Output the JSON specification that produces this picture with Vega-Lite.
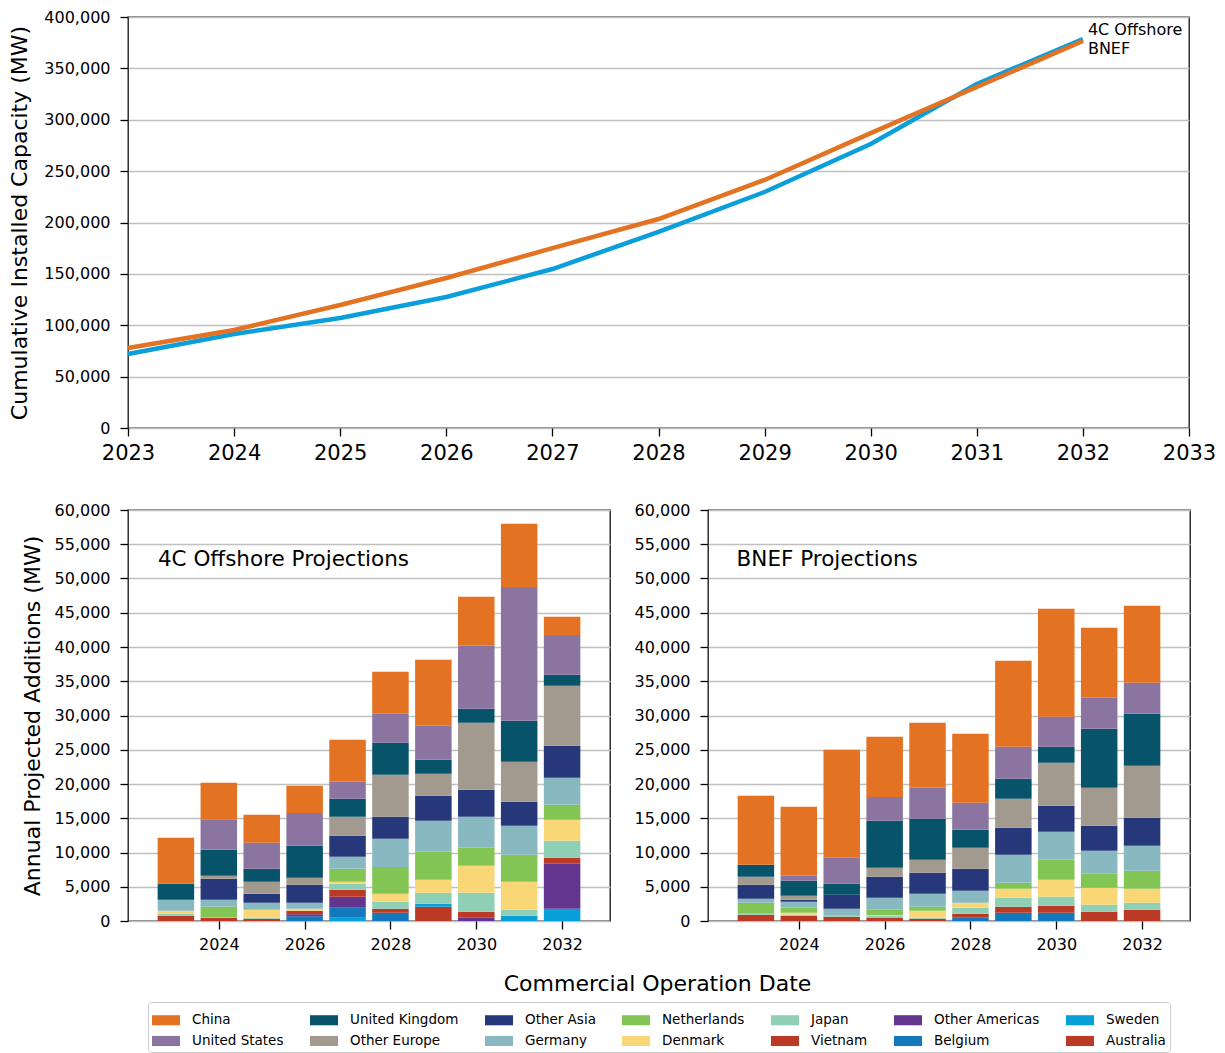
{
  "$schema": "https://vega.github.io/schema/vega-lite/v6.json",
  "background": "white",
  "padding": {"left": 8, "top": 8, "right": 5, "bottom": 0},
  "config": {
    "font": "DejaVu Sans",
    "view": {"stroke": "#111", "strokeWidth": 1.3},
    "axis": {"labelFont": "DejaVu Sans", "titleFont": "DejaVu Sans", "labelColor": "#000", "titleColor": "#000", "titleFontWeight": "normal", "labelFontSize": 16, "titleFontSize": 22, "domain": false, "tickColor": "#000", "tickSize": 8, "tickWidth": 1.3, "gridColor": "#c0c0c0", "gridWidth": 1.3, "labelOverlap": false, "labelFlush": false},
    "axisX": {"labelPadding": 7, "grid": false},
    "axisY": {"labelPadding": 10, "titlePadding": 12},
    "legend": {"labelFont": "DejaVu Sans", "labelFontSize": 13.5, "labelColor": "#000", "symbolType": "M-1,-0.36H1V0.36H-1Z", "symbolSize": 784, "symbolStrokeWidth": 0, "symbolOpacity": 1, "labelOffset": 12, "columnPadding": 26, "rowPadding": 0, "strokeColor": "#cccccc", "cornerRadius": 3, "padding": 4, "fillColor": "white"},
    "title": {"font": "DejaVu Sans", "fontWeight": "normal", "color": "#000"}
  },
  "datasets": {
    "cum": [
      {"src": "4C Offshore", "year": 2023, "mw": 72000},
      {"src": "4C Offshore", "year": 2024, "mw": 91500},
      {"src": "4C Offshore", "year": 2025, "mw": 107000},
      {"src": "4C Offshore", "year": 2026, "mw": 127500},
      {"src": "4C Offshore", "year": 2027, "mw": 154700},
      {"src": "4C Offshore", "year": 2028, "mw": 190800},
      {"src": "4C Offshore", "year": 2029, "mw": 229700},
      {"src": "4C Offshore", "year": 2030, "mw": 276400},
      {"src": "4C Offshore", "year": 2031, "mw": 334800},
      {"src": "4C Offshore", "year": 2032, "mw": 378600},
      {"src": "BNEF", "year": 2023, "mw": 77900},
      {"src": "BNEF", "year": 2024, "mw": 95400},
      {"src": "BNEF", "year": 2025, "mw": 119700},
      {"src": "BNEF", "year": 2026, "mw": 146000},
      {"src": "BNEF", "year": 2027, "mw": 175000},
      {"src": "BNEF", "year": 2028, "mw": 203400},
      {"src": "BNEF", "year": 2029, "mw": 241400},
      {"src": "BNEF", "year": 2030, "mw": 287000},
      {"src": "BNEF", "year": 2031, "mw": 331900},
      {"src": "BNEF", "year": 2032, "mw": 376600}
    ],
    "panelLabels": [
      {"src": "4C", "label": "4C Offshore Projections"},
      {"src": "BNEF", "label": "BNEF Projections"}
    ],
    "annual": [
      {"src": "4C", "year": 2023, "country": "Australia", "mw": 780},
      {"src": "4C", "year": 2023, "country": "Japan", "mw": 290},
      {"src": "4C", "year": 2023, "country": "Denmark", "mw": 440},
      {"src": "4C", "year": 2023, "country": "Germany", "mw": 1600},
      {"src": "4C", "year": 2023, "country": "United Kingdom", "mw": 2340},
      {"src": "4C", "year": 2023, "country": "China", "mw": 6720},

      {"src": "4C", "year": 2024, "country": "Australia", "mw": 490},
      {"src": "4C", "year": 2024, "country": "Japan", "mw": 90},
      {"src": "4C", "year": 2024, "country": "Netherlands", "mw": 1510},
      {"src": "4C", "year": 2024, "country": "Germany", "mw": 1020},
      {"src": "4C", "year": 2024, "country": "Other Asia", "mw": 3070},
      {"src": "4C", "year": 2024, "country": "Other Europe", "mw": 440},
      {"src": "4C", "year": 2024, "country": "United Kingdom", "mw": 3790},
      {"src": "4C", "year": 2024, "country": "United States", "mw": 4430},
      {"src": "4C", "year": 2024, "country": "China", "mw": 5350},

      {"src": "4C", "year": 2025, "country": "Australia", "mw": 340},
      {"src": "4C", "year": 2025, "country": "Japan", "mw": 150},
      {"src": "4C", "year": 2025, "country": "Denmark", "mw": 1160},
      {"src": "4C", "year": 2025, "country": "Germany", "mw": 1030},
      {"src": "4C", "year": 2025, "country": "Other Asia", "mw": 1310},
      {"src": "4C", "year": 2025, "country": "Other Europe", "mw": 1750},
      {"src": "4C", "year": 2025, "country": "United Kingdom", "mw": 1900},
      {"src": "4C", "year": 2025, "country": "United States", "mw": 3800},
      {"src": "4C", "year": 2025, "country": "China", "mw": 4080},

      {"src": "4C", "year": 2026, "country": "Belgium", "mw": 680},
      {"src": "4C", "year": 2026, "country": "Other Americas", "mw": 290},
      {"src": "4C", "year": 2026, "country": "Vietnam", "mw": 540},
      {"src": "4C", "year": 2026, "country": "Denmark", "mw": 290},
      {"src": "4C", "year": 2026, "country": "Germany", "mw": 880},
      {"src": "4C", "year": 2026, "country": "Other Asia", "mw": 2620},
      {"src": "4C", "year": 2026, "country": "Other Europe", "mw": 1030},
      {"src": "4C", "year": 2026, "country": "United Kingdom", "mw": 4670},
      {"src": "4C", "year": 2026, "country": "United States", "mw": 4770},
      {"src": "4C", "year": 2026, "country": "China", "mw": 3990},

      {"src": "4C", "year": 2027, "country": "Sweden", "mw": 490},
      {"src": "4C", "year": 2027, "country": "Belgium", "mw": 1460},
      {"src": "4C", "year": 2027, "country": "Other Americas", "mw": 1600},
      {"src": "4C", "year": 2027, "country": "Vietnam", "mw": 1020},
      {"src": "4C", "year": 2027, "country": "Japan", "mw": 880},
      {"src": "4C", "year": 2027, "country": "Denmark", "mw": 290},
      {"src": "4C", "year": 2027, "country": "Netherlands", "mw": 1900},
      {"src": "4C", "year": 2027, "country": "Germany", "mw": 1750},
      {"src": "4C", "year": 2027, "country": "Other Asia", "mw": 3070},
      {"src": "4C", "year": 2027, "country": "Other Europe", "mw": 2770},
      {"src": "4C", "year": 2027, "country": "United Kingdom", "mw": 2630},
      {"src": "4C", "year": 2027, "country": "United States", "mw": 2480},
      {"src": "4C", "year": 2027, "country": "China", "mw": 6130},

      {"src": "4C", "year": 2028, "country": "Belgium", "mw": 1220},
      {"src": "4C", "year": 2028, "country": "Vietnam", "mw": 580},
      {"src": "4C", "year": 2028, "country": "Japan", "mw": 1020},
      {"src": "4C", "year": 2028, "country": "Denmark", "mw": 1170},
      {"src": "4C", "year": 2028, "country": "Netherlands", "mw": 3890},
      {"src": "4C", "year": 2028, "country": "Germany", "mw": 4140},
      {"src": "4C", "year": 2028, "country": "Other Asia", "mw": 3210},
      {"src": "4C", "year": 2028, "country": "Other Europe", "mw": 6130},
      {"src": "4C", "year": 2028, "country": "United Kingdom", "mw": 4670},
      {"src": "4C", "year": 2028, "country": "United States", "mw": 4240},
      {"src": "4C", "year": 2028, "country": "China", "mw": 6130},

      {"src": "4C", "year": 2029, "country": "Australia", "mw": 2090},
      {"src": "4C", "year": 2029, "country": "Sweden", "mw": 440},
      {"src": "4C", "year": 2029, "country": "Japan", "mw": 1610},
      {"src": "4C", "year": 2029, "country": "Denmark", "mw": 1890},
      {"src": "4C", "year": 2029, "country": "Netherlands", "mw": 4090},
      {"src": "4C", "year": 2029, "country": "Germany", "mw": 4530},
      {"src": "4C", "year": 2029, "country": "Other Asia", "mw": 3650},
      {"src": "4C", "year": 2029, "country": "Other Europe", "mw": 3210},
      {"src": "4C", "year": 2029, "country": "United Kingdom", "mw": 2040},
      {"src": "4C", "year": 2029, "country": "United States", "mw": 4970},
      {"src": "4C", "year": 2029, "country": "China", "mw": 9630},

      {"src": "4C", "year": 2030, "country": "Other Americas", "mw": 490},
      {"src": "4C", "year": 2030, "country": "Vietnam", "mw": 870},
      {"src": "4C", "year": 2030, "country": "Japan", "mw": 2780},
      {"src": "4C", "year": 2030, "country": "Denmark", "mw": 3940},
      {"src": "4C", "year": 2030, "country": "Netherlands", "mw": 2630},
      {"src": "4C", "year": 2030, "country": "Germany", "mw": 4520},
      {"src": "4C", "year": 2030, "country": "Other Asia", "mw": 3940},
      {"src": "4C", "year": 2030, "country": "Other Europe", "mw": 9780},
      {"src": "4C", "year": 2030, "country": "United Kingdom", "mw": 2050},
      {"src": "4C", "year": 2030, "country": "United States", "mw": 9190},
      {"src": "4C", "year": 2030, "country": "China", "mw": 7160},

      {"src": "4C", "year": 2031, "country": "Sweden", "mw": 780},
      {"src": "4C", "year": 2031, "country": "Japan", "mw": 870},
      {"src": "4C", "year": 2031, "country": "Denmark", "mw": 4090},
      {"src": "4C", "year": 2031, "country": "Netherlands", "mw": 3940},
      {"src": "4C", "year": 2031, "country": "Germany", "mw": 4240},
      {"src": "4C", "year": 2031, "country": "Other Asia", "mw": 3500},
      {"src": "4C", "year": 2031, "country": "Other Europe", "mw": 5840},
      {"src": "4C", "year": 2031, "country": "United Kingdom", "mw": 5990},
      {"src": "4C", "year": 2031, "country": "United States", "mw": 19510},
      {"src": "4C", "year": 2031, "country": "China", "mw": 9240},

      {"src": "4C", "year": 2032, "country": "Sweden", "mw": 1800},
      {"src": "4C", "year": 2032, "country": "Other Americas", "mw": 6570},
      {"src": "4C", "year": 2032, "country": "Vietnam", "mw": 880},
      {"src": "4C", "year": 2032, "country": "Japan", "mw": 2480},
      {"src": "4C", "year": 2032, "country": "Denmark", "mw": 3060},
      {"src": "4C", "year": 2032, "country": "Netherlands", "mw": 2190},
      {"src": "4C", "year": 2032, "country": "Germany", "mw": 3940},
      {"src": "4C", "year": 2032, "country": "Other Asia", "mw": 4680},
      {"src": "4C", "year": 2032, "country": "Other Europe", "mw": 8760},
      {"src": "4C", "year": 2032, "country": "United Kingdom", "mw": 1600},
      {"src": "4C", "year": 2032, "country": "United States", "mw": 5790},
      {"src": "4C", "year": 2032, "country": "China", "mw": 2680},

      {"src": "BNEF", "year": 2023, "country": "Australia", "mw": 920},
      {"src": "BNEF", "year": 2023, "country": "Japan", "mw": 150},
      {"src": "BNEF", "year": 2023, "country": "Netherlands", "mw": 1610},
      {"src": "BNEF", "year": 2023, "country": "Germany", "mw": 580},
      {"src": "BNEF", "year": 2023, "country": "Other Asia", "mw": 2040},
      {"src": "BNEF", "year": 2023, "country": "Other Europe", "mw": 1170},
      {"src": "BNEF", "year": 2023, "country": "United Kingdom", "mw": 1750},
      {"src": "BNEF", "year": 2023, "country": "China", "mw": 10080},

      {"src": "BNEF", "year": 2024, "country": "Australia", "mw": 780},
      {"src": "BNEF", "year": 2024, "country": "Japan", "mw": 140},
      {"src": "BNEF", "year": 2024, "country": "Denmark", "mw": 300},
      {"src": "BNEF", "year": 2024, "country": "Netherlands", "mw": 730},
      {"src": "BNEF", "year": 2024, "country": "Germany", "mw": 870},
      {"src": "BNEF", "year": 2024, "country": "Other Asia", "mw": 290},
      {"src": "BNEF", "year": 2024, "country": "Other Europe", "mw": 590},
      {"src": "BNEF", "year": 2024, "country": "United Kingdom", "mw": 2190},
      {"src": "BNEF", "year": 2024, "country": "United States", "mw": 730},
      {"src": "BNEF", "year": 2024, "country": "China", "mw": 10070},

      {"src": "BNEF", "year": 2025, "country": "Australia", "mw": 630},
      {"src": "BNEF", "year": 2025, "country": "Japan", "mw": 150},
      {"src": "BNEF", "year": 2025, "country": "Germany", "mw": 1020},
      {"src": "BNEF", "year": 2025, "country": "Other Asia", "mw": 2040},
      {"src": "BNEF", "year": 2025, "country": "United Kingdom", "mw": 1610},
      {"src": "BNEF", "year": 2025, "country": "United States", "mw": 3800},
      {"src": "BNEF", "year": 2025, "country": "China", "mw": 15760},

      {"src": "BNEF", "year": 2026, "country": "Australia", "mw": 440},
      {"src": "BNEF", "year": 2026, "country": "Japan", "mw": 290},
      {"src": "BNEF", "year": 2026, "country": "Denmark", "mw": 150},
      {"src": "BNEF", "year": 2026, "country": "Netherlands", "mw": 770},
      {"src": "BNEF", "year": 2026, "country": "Germany", "mw": 1760},
      {"src": "BNEF", "year": 2026, "country": "Other Asia", "mw": 3060},
      {"src": "BNEF", "year": 2026, "country": "Other Europe", "mw": 1320},
      {"src": "BNEF", "year": 2026, "country": "United Kingdom", "mw": 6860},
      {"src": "BNEF", "year": 2026, "country": "United States", "mw": 3450},
      {"src": "BNEF", "year": 2026, "country": "China", "mw": 8810},

      {"src": "BNEF", "year": 2027, "country": "Australia", "mw": 340},
      {"src": "BNEF", "year": 2027, "country": "Japan", "mw": 150},
      {"src": "BNEF", "year": 2027, "country": "Denmark", "mw": 1020},
      {"src": "BNEF", "year": 2027, "country": "Netherlands", "mw": 580},
      {"src": "BNEF", "year": 2027, "country": "Germany", "mw": 1900},
      {"src": "BNEF", "year": 2027, "country": "Other Asia", "mw": 3070},
      {"src": "BNEF", "year": 2027, "country": "Other Europe", "mw": 1890},
      {"src": "BNEF", "year": 2027, "country": "United Kingdom", "mw": 5990},
      {"src": "BNEF", "year": 2027, "country": "United States", "mw": 4520},
      {"src": "BNEF", "year": 2027, "country": "China", "mw": 9490},

      {"src": "BNEF", "year": 2028, "country": "Belgium", "mw": 490},
      {"src": "BNEF", "year": 2028, "country": "Vietnam", "mw": 580},
      {"src": "BNEF", "year": 2028, "country": "Japan", "mw": 880},
      {"src": "BNEF", "year": 2028, "country": "Denmark", "mw": 730},
      {"src": "BNEF", "year": 2028, "country": "Germany", "mw": 1750},
      {"src": "BNEF", "year": 2028, "country": "Other Asia", "mw": 3210},
      {"src": "BNEF", "year": 2028, "country": "Other Europe", "mw": 3070},
      {"src": "BNEF", "year": 2028, "country": "United Kingdom", "mw": 2620},
      {"src": "BNEF", "year": 2028, "country": "United States", "mw": 3940},
      {"src": "BNEF", "year": 2028, "country": "China", "mw": 10080},

      {"src": "BNEF", "year": 2029, "country": "Belgium", "mw": 1220},
      {"src": "BNEF", "year": 2029, "country": "Vietnam", "mw": 870},
      {"src": "BNEF", "year": 2029, "country": "Japan", "mw": 1320},
      {"src": "BNEF", "year": 2029, "country": "Denmark", "mw": 1310},
      {"src": "BNEF", "year": 2029, "country": "Netherlands", "mw": 880},
      {"src": "BNEF", "year": 2029, "country": "Germany", "mw": 4080},
      {"src": "BNEF", "year": 2029, "country": "Other Asia", "mw": 3950},
      {"src": "BNEF", "year": 2029, "country": "Other Europe", "mw": 4230},
      {"src": "BNEF", "year": 2029, "country": "United Kingdom", "mw": 2920},
      {"src": "BNEF", "year": 2029, "country": "United States", "mw": 4670},
      {"src": "BNEF", "year": 2029, "country": "China", "mw": 12550},

      {"src": "BNEF", "year": 2030, "country": "Belgium", "mw": 1220},
      {"src": "BNEF", "year": 2030, "country": "Vietnam", "mw": 1020},
      {"src": "BNEF", "year": 2030, "country": "Japan", "mw": 1310},
      {"src": "BNEF", "year": 2030, "country": "Denmark", "mw": 2480},
      {"src": "BNEF", "year": 2030, "country": "Netherlands", "mw": 2920},
      {"src": "BNEF", "year": 2030, "country": "Germany", "mw": 4090},
      {"src": "BNEF", "year": 2030, "country": "Other Asia", "mw": 3800},
      {"src": "BNEF", "year": 2030, "country": "Other Europe", "mw": 6270},
      {"src": "BNEF", "year": 2030, "country": "United Kingdom", "mw": 2340},
      {"src": "BNEF", "year": 2030, "country": "United States", "mw": 4380},
      {"src": "BNEF", "year": 2030, "country": "China", "mw": 15770},

      {"src": "BNEF", "year": 2031, "country": "Australia", "mw": 1360},
      {"src": "BNEF", "year": 2031, "country": "Japan", "mw": 1020},
      {"src": "BNEF", "year": 2031, "country": "Denmark", "mw": 2490},
      {"src": "BNEF", "year": 2031, "country": "Netherlands", "mw": 2040},
      {"src": "BNEF", "year": 2031, "country": "Germany", "mw": 3360},
      {"src": "BNEF", "year": 2031, "country": "Other Asia", "mw": 3650},
      {"src": "BNEF", "year": 2031, "country": "Other Europe", "mw": 5540},
      {"src": "BNEF", "year": 2031, "country": "United Kingdom", "mw": 8620},
      {"src": "BNEF", "year": 2031, "country": "United States", "mw": 4520},
      {"src": "BNEF", "year": 2031, "country": "China", "mw": 10220},

      {"src": "BNEF", "year": 2032, "country": "Australia", "mw": 1650},
      {"src": "BNEF", "year": 2032, "country": "Japan", "mw": 1030},
      {"src": "BNEF", "year": 2032, "country": "Denmark", "mw": 2040},
      {"src": "BNEF", "year": 2032, "country": "Netherlands", "mw": 2630},
      {"src": "BNEF", "year": 2032, "country": "Germany", "mw": 3650},
      {"src": "BNEF", "year": 2032, "country": "Other Asia", "mw": 4090},
      {"src": "BNEF", "year": 2032, "country": "Other Europe", "mw": 7590},
      {"src": "BNEF", "year": 2032, "country": "United Kingdom", "mw": 7590},
      {"src": "BNEF", "year": 2032, "country": "United States", "mw": 4520},
      {"src": "BNEF", "year": 2032, "country": "China", "mw": 11240}
    ]
  },
  "bounds": "flush",
  "spacing": 82,
  "vconcat": [
    {
      "width": 1061,
      "height": 411,
      "data": {"name": "cum"},
      "encoding": {
        "x": {"field": "year", "type": "quantitative", "scale": {"domain": [2023, 2033], "nice": false, "zero": false}, "axis": {"values": [2023, 2024, 2025, 2026, 2027, 2028, 2029, 2030, 2031, 2032, 2033], "format": "d", "title": null, "labelFontSize": 21, "labelPadding": 6}},
        "y": {"field": "mw", "type": "quantitative", "scale": {"domain": [0, 400000], "nice": false}, "axis": {"values": [0, 50000, 100000, 150000, 200000, 250000, 300000, 350000, 400000], "format": ",d", "title": "Cumulative Installed Capacity (MW)", "grid": true}}
      },
      "layer": [
        {"transform": [{"filter": "datum.src === '4C Offshore'"}], "mark": {"type": "line", "color": "#0A9FDA", "strokeWidth": 4.5}},
        {"transform": [{"filter": "datum.src === 'BNEF'"}], "mark": {"type": "line", "color": "#E37222", "strokeWidth": 4.5}},
        {"transform": [{"filter": "datum.src === '4C Offshore' && datum.year === 2032"}], "mark": {"type": "text", "align": "left", "baseline": "middle", "dx": 5, "dy": -9, "fontSize": 16, "color": "#000"}, "encoding": {"text": {"field": "src"}}},
        {"transform": [{"filter": "datum.src === 'BNEF' && datum.year === 2032"}], "mark": {"type": "text", "align": "left", "baseline": "middle", "dx": 5, "dy": 8, "fontSize": 16, "color": "#000"}, "encoding": {"text": {"field": "src"}}}
      ]
    },
    {
      "bounds": "flush",
      "spacing": 98,
      "title": {"text": "Commercial Operation Date", "orient": "bottom", "anchor": "middle", "fontSize": 22, "fontWeight": "normal", "offset": 21, "dx": 52},
      "hconcat": [
        {
          "width": 482,
          "height": 411,
          "layer": [
            {
              "data": {"name": "annual"},
              "transform": [
                {"filter": "datum.src === '4C'"},
                {"calculate": "indexof(['Australia','Sweden','Belgium','Other Americas','Vietnam','Japan','Denmark','Netherlands','Germany','Other Asia','Other Europe','United Kingdom','United States','China'], datum.country)", "as": "stackIdx"}
              ],
              "mark": {"type": "bar", "width": 36.5},
              "encoding": {
                "x": {"field": "year", "type": "quantitative", "scale": {"domain": [2022, 2033], "nice": false, "zero": false}, "axis": {"values": [2024, 2026, 2028, 2030, 2032], "format": "d", "title": null}},
                "y": {"field": "mw", "type": "quantitative", "stack": "zero", "scale": {"domain": [0, 60000], "nice": false}, "axis": {"values": [0, 5000, 10000, 15000, 20000, 25000, 30000, 35000, 40000, 45000, 50000, 55000, 60000], "format": ",d", "title": "Annual Projected Additions (MW)", "grid": true, "titlePadding": 10}},
                "color": {"field": "country", "type": "nominal",
                  "scale": {"domain": ["China", "United Kingdom", "Other Asia", "Netherlands", "Japan", "Other Americas", "Sweden", "United States", "Other Europe", "Germany", "Denmark", "Vietnam", "Belgium", "Australia"],
                            "range": ["#E37222", "#07536A", "#27387A", "#83C555", "#8ECFB6", "#64358E", "#079FDA", "#8B75A0", "#A39A8F", "#88B8C0", "#F9D777", "#BB3A26", "#1379BA", "#BB3A26"]},
                  "legend": {"title": null, "orient": "none", "legendX": 20, "legendY": 985, "direction": "horizontal", "columns": 7}},
                "order": {"field": "stackIdx", "type": "quantitative"}
              }
            },
            {
              "data": {"name": "panelLabels"},
              "transform": [{"filter": "datum.src === '4C'"}],
              "mark": {"type": "text", "align": "left", "baseline": "middle", "fontSize": 21.5, "color": "#000"},
              "encoding": {
                "x": {"datum": 2022.58, "type": "quantitative", "scale": {"domain": [2022, 2033], "nice": false, "zero": false}, "axis": {"values": [2024, 2026, 2028, 2030, 2032], "format": "d", "title": null}},
                "y": {"datum": 52700, "type": "quantitative", "scale": {"domain": [0, 60000], "nice": false}, "axis": {"values": [0, 5000, 10000, 15000, 20000, 25000, 30000, 35000, 40000, 45000, 50000, 55000, 60000], "format": ",d", "title": "Annual Projected Additions (MW)", "grid": true, "titlePadding": 10}},
                "text": {"field": "label"}
              }
            }
          ]
        },
        {
          "width": 482,
          "height": 411,
          "layer": [
            {
              "data": {"name": "annual"},
              "transform": [
                {"filter": "datum.src === 'BNEF'"},
                {"calculate": "indexof(['Australia','Sweden','Belgium','Other Americas','Vietnam','Japan','Denmark','Netherlands','Germany','Other Asia','Other Europe','United Kingdom','United States','China'], datum.country)", "as": "stackIdx"}
              ],
              "mark": {"type": "bar", "width": 36.5},
              "encoding": {
                "x": {"field": "year", "type": "quantitative", "scale": {"domain": [2022, 2033], "nice": false, "zero": false}, "axis": {"values": [2024, 2026, 2028, 2030, 2032], "format": "d", "title": null}},
                "y": {"field": "mw", "type": "quantitative", "stack": "zero", "scale": {"domain": [0, 60000], "nice": false}, "axis": {"values": [0, 5000, 10000, 15000, 20000, 25000, 30000, 35000, 40000, 45000, 50000, 55000, 60000], "format": ",d", "title": null, "grid": true}},
                "color": {"field": "country", "type": "nominal"},
                "order": {"field": "stackIdx", "type": "quantitative"}
              }
            },
            {
              "data": {"name": "panelLabels"},
              "transform": [{"filter": "datum.src === 'BNEF'"}],
              "mark": {"type": "text", "align": "left", "baseline": "middle", "fontSize": 21.5, "color": "#000"},
              "encoding": {
                "x": {"datum": 2022.55, "type": "quantitative", "scale": {"domain": [2022, 2033], "nice": false, "zero": false}, "axis": {"values": [2024, 2026, 2028, 2030, 2032], "format": "d", "title": null}},
                "y": {"datum": 52700, "type": "quantitative", "scale": {"domain": [0, 60000], "nice": false}, "axis": {"values": [0, 5000, 10000, 15000, 20000, 25000, 30000, 35000, 40000, 45000, 50000, 55000, 60000], "format": ",d", "title": null, "grid": true}},
                "text": {"field": "label"}
              }
            }
          ]
        }
      ]
    }
  ]
}
